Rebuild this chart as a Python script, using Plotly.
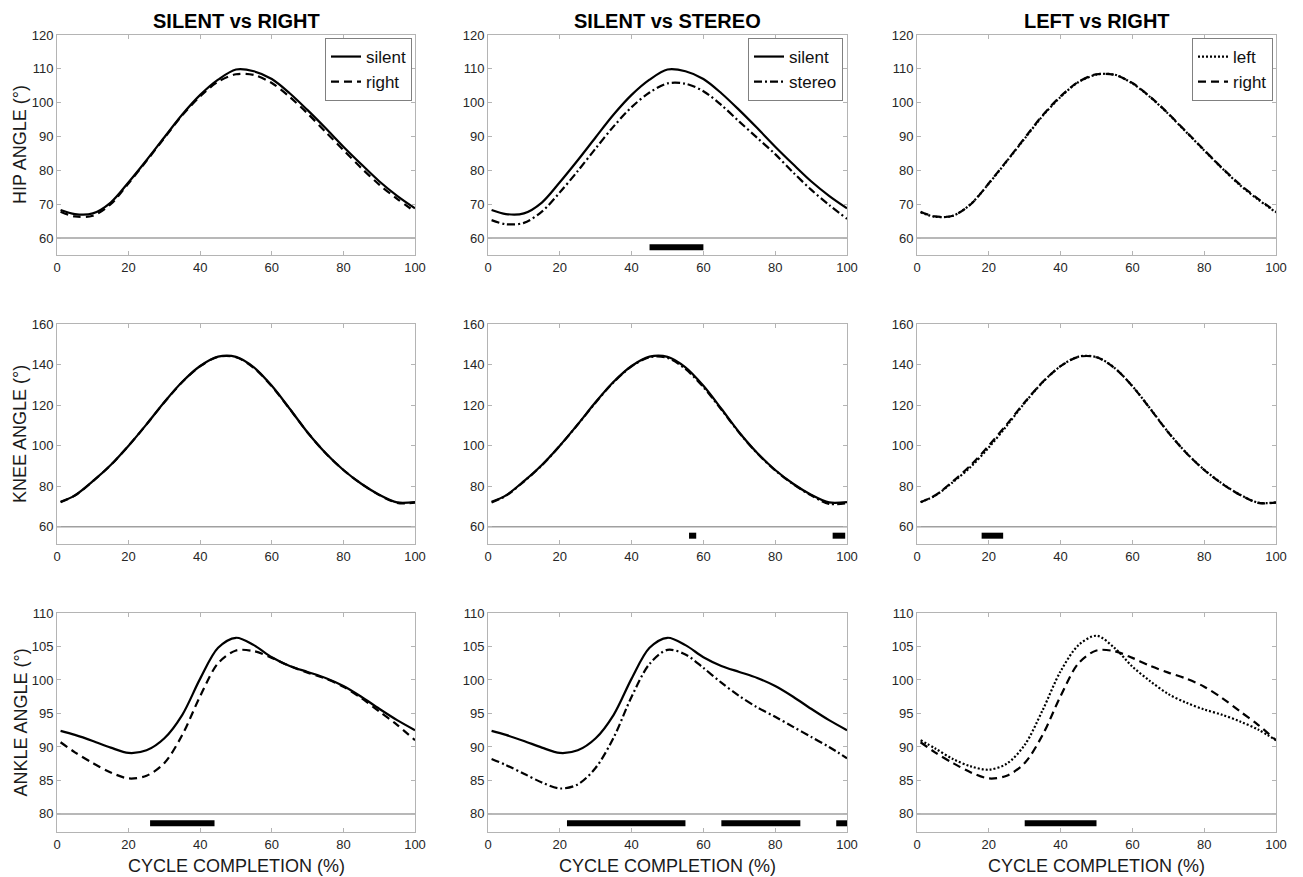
import plotly.graph_objects as go

# ---------------- data ----------------
cycle = [1, 5, 10, 15, 20, 25, 30, 35, 40, 45, 50, 55, 60, 65, 70, 75, 80, 85, 90, 95, 100]

hip_silent = [68.3, 67.1, 67.3, 70.5, 76.5, 83.0, 89.8, 96.5, 102.3, 106.8, 109.8, 109.3, 107.0, 102.8, 97.8, 92.5, 87.0, 81.8, 76.8, 72.5, 68.8]
hip_right  = [67.8, 66.4, 66.6, 70.0, 76.2, 82.8, 89.6, 96.3, 101.9, 106.2, 108.4, 108.2, 105.8, 101.7, 96.8, 91.4, 86.0, 80.7, 75.8, 71.6, 67.8]
hip_stereo = [65.3, 64.1, 64.5, 67.8, 73.5, 79.8, 86.5, 93.0, 98.7, 103.0, 105.7, 105.6, 103.4, 99.3, 94.4, 89.6, 84.8, 79.4, 74.3, 69.8, 65.7]
hip_left   = [67.6, 66.3, 66.6, 70.1, 76.1, 82.7, 89.4, 96.1, 101.7, 106.1, 108.3, 108.3, 105.7, 101.6, 96.7, 91.3, 85.9, 80.6, 75.6, 71.4, 67.6]

knee_silent = [72.3, 75.5, 82.5, 90.5, 100.0, 110.5, 121.5, 131.5, 139.3, 143.9, 143.8, 138.6, 129.5, 118.2, 106.5, 96.4, 88.0, 81.2, 75.8, 72.0, 72.2]
knee_right  = [72.1, 75.4, 82.4, 90.4, 100.0, 110.5, 121.4, 131.4, 139.2, 143.8, 143.6, 138.3, 129.3, 118.1, 106.5, 96.4, 88.0, 81.2, 75.7, 71.8, 71.9]
knee_stereo = [72.0, 75.3, 82.3, 90.3, 99.9, 110.4, 121.3, 131.3, 139.1, 143.6, 143.3, 137.8, 128.9, 117.8, 106.3, 96.2, 87.8, 81.0, 75.5, 71.3, 71.6]
knee_left   = [72.2, 75.3, 82.0, 89.6, 99.1, 109.8, 121.1, 131.3, 139.2, 143.9, 143.7, 138.4, 129.4, 118.2, 106.6, 96.5, 88.1, 81.3, 75.8, 71.9, 72.0]

ankle_silent = [92.4, 91.8, 90.9, 89.9, 89.1, 89.5, 91.3, 94.8, 100.2, 104.8, 106.3, 105.2, 103.4, 102.1, 101.2, 100.3, 99.1, 97.5, 95.7, 94.0, 92.5]
ankle_right  = [90.7, 89.2, 87.6, 86.2, 85.3, 85.7, 87.6, 91.8, 97.6, 102.5, 104.4, 104.3, 103.3, 102.1, 101.1, 100.2, 99.0, 97.3, 95.3, 93.3, 91.0]
ankle_stereo = [88.2, 87.3, 86.0, 84.7, 83.8, 84.4, 86.9, 91.4, 97.5, 102.4, 104.5, 103.8, 101.8, 99.6, 97.6, 95.9, 94.5, 93.0, 91.5, 90.0, 88.3]
ankle_left   = [91.0, 89.8, 88.2, 87.1, 86.6, 87.5, 90.3, 95.5, 101.3, 105.2, 106.6, 104.8, 102.0, 99.8, 97.9, 96.6, 95.6, 94.8, 93.8, 92.6, 91.0]

# significance bars (start, end) per panel
sig_hip   = {"SvR": [], "SvS": [(45, 60)], "LvR": []}
sig_knee  = {"SvR": [], "SvS": [(56, 58), (96, 99.5)], "LvR": [(18, 24)]}
sig_ankle = {"SvR": [(26, 44)], "SvS": [(22, 55), (65, 87), (97, 100)], "LvR": [(30, 50)]}
sig_level = {"hip": 57.3, "knee": 55.6, "ankle": 78.6}
baseline  = {"hip": 60, "knee": 60, "ankle": 80}

col_titles = ["SILENT vs RIGHT", "SILENT vs STEREO", "LEFT vs RIGHT"]
row_titles = ["HIP ANGLE (°)", "KNEE ANGLE (°)", "ANKLE ANGLE (°)"]
x_title = "CYCLE COMPLETION (%)"
x_ticks = [0, 20, 40, 60, 80, 100]
y_ticks = {"hip": [60, 70, 80, 90, 100, 110, 120],
           "knee": [60, 80, 100, 120, 140, 160],
           "ankle": [80, 85, 90, 95, 100, 105, 110]}
y_ranges = {"hip": [55, 120], "knee": [51.5, 160], "ankle": [77.3, 110]}

# ---------------- layout geometry ----------------
OFF = 8                      # page body margin
W, H = 1303 - OFF, 877 - OFF
col_px = [(57, 415), (488, 847), (917, 1276)]
row_px = [(35, 255), (324, 544), (613, 832)]


def px_x(v):
    return (v - OFF) / W


def px_y(v):
    return 1 - (v - OFF) / H


fig = go.Figure()

DASH = "8px,5px"
DASHDOT = "8px,3px,2px,3px"
DOT = "2px,2px"

joints = ["hip", "knee", "ankle"]
pairs = {
    "hip":   [(hip_silent, "silent", "solid", hip_right, "right", DASH),
              (hip_silent, "silent", "solid", hip_stereo, "stereo", DASHDOT),
              (hip_left, "left", DOT, hip_right, "right", DASH)],
    "knee":  [(knee_silent, "silent", "solid", knee_right, "right", DASH),
              (knee_silent, "silent", "solid", knee_stereo, "stereo", DASHDOT),
              (knee_left, "left", DOT, knee_right, "right", DASH)],
    "ankle": [(ankle_silent, "silent", "solid", ankle_right, "right", DASH),
              (ankle_silent, "silent", "solid", ankle_stereo, "stereo", DASHDOT),
              (ankle_left, "left", DOT, ankle_right, "right", DASH)],
}
sigs = {"hip": sig_hip, "knee": sig_knee, "ankle": sig_ankle}
keys = ["SvR", "SvS", "LvR"]

axis_grey = "#b4b4b4"
FONT = "Liberation Sans, Arial, sans-serif"
tick_font = dict(family=FONT, size=13, color="#262626")

legend_names = ["legend", "legend2", "legend3"]
legend_right_px = [412, 843, 1273]

idx = 0
for r, joint in enumerate(joints):
    for c in range(3):
        idx += 1
        xa = "x" if idx == 1 else f"x{idx}"
        ya = "y" if idx == 1 else f"y{idx}"
        xkey = "xaxis" if idx == 1 else f"xaxis{idx}"
        ykey = "yaxis" if idx == 1 else f"yaxis{idx}"
        x0, x1 = col_px[c]
        t0, t1 = row_px[r]
        fig.update_layout(**{
            xkey: dict(domain=[px_x(x0), px_x(x1)], anchor=ya, range=[0, 100],
                       tickvals=x_ticks, ticks="inside", ticklen=4, tickcolor=axis_grey,
                       showline=True, linecolor=axis_grey, linewidth=1, mirror="ticks",
                       showgrid=False, zeroline=False, tickfont=tick_font, automargin=False),
            ykey: dict(domain=[px_y(t1), px_y(t0)], anchor=xa, range=y_ranges[joint],
                       tickvals=y_ticks[joint], ticks="inside", ticklen=4, tickcolor=axis_grey,
                       showline=True, linecolor=axis_grey, linewidth=1, mirror="ticks",
                       showgrid=False, zeroline=False, tickfont=tick_font, automargin=False),
        })
        # baseline
        fig.add_trace(go.Scatter(x=[0, 100], y=[baseline[joint]] * 2, mode="lines",
                                 line=dict(color="#a0a0a0", width=1.5), xaxis=xa, yaxis=ya,
                                 showlegend=False, hoverinfo="skip"))
        # significance bars
        for (s, e) in sigs[joint][keys[c]]:
            fig.add_trace(go.Scatter(x=[s, e], y=[sig_level[joint]] * 2, mode="lines",
                                     line=dict(color="black", width=6), xaxis=xa, yaxis=ya,
                                     showlegend=False, hoverinfo="skip"))
        a, an, ad, b, bn, bd = pairs[joint][c]
        show = (r == 0)
        fig.add_trace(go.Scatter(x=cycle, y=a, mode="lines", name=an,
                                 line=dict(color="black", width=2.2, dash=ad, shape="spline", smoothing=0.9),
                                 xaxis=xa, yaxis=ya, showlegend=show, legend=legend_names[c]))
        fig.add_trace(go.Scatter(x=cycle, y=b, mode="lines", name=bn,
                                 line=dict(color="black", width=2.2, dash=bd, shape="spline", smoothing=0.9),
                                 xaxis=xa, yaxis=ya, showlegend=show, legend=legend_names[c]))

# legends
for c in range(3):
    fig.update_layout(**{legend_names[c]: dict(
        x=px_x(legend_right_px[c]), xanchor="right", y=px_y(38), yanchor="top",
        bgcolor="white", bordercolor="#808080", borderwidth=1,
        font=dict(family=FONT, size=17, color="#111111"),
        itemwidth=30, tracegroupgap=0)})

annotations = []
for c in range(3):
    xc = px_x((col_px[c][0] + col_px[c][1]) / 2)
    annotations.append(dict(text=f"<b>{col_titles[c]}</b>", x=xc, y=px_y(21), xref="paper", yref="paper",
                            showarrow=False, xanchor="center", yanchor="middle",
                            font=dict(family=FONT, size=20, color="black")))
    annotations.append(dict(text=x_title, x=xc, y=px_y(866), xref="paper", yref="paper",
                            showarrow=False, xanchor="center", yanchor="middle",
                            font=dict(family=FONT, size=18, color="#1a1a1a")))
for r in range(3):
    yc = px_y((row_px[r][0] + row_px[r][1]) / 2)
    annotations.append(dict(text=row_titles[r], x=px_x(20), y=yc, xref="paper", yref="paper",
                            showarrow=False, xanchor="center", yanchor="middle", textangle=-90,
                            font=dict(family=FONT, size=18, color="#1a1a1a")))

fig.update_layout(width=W, height=H, margin=dict(l=0, r=0, t=0, b=0),
                  paper_bgcolor="white", plot_bgcolor="white", annotations=annotations)

fig.write_html("out.html")
